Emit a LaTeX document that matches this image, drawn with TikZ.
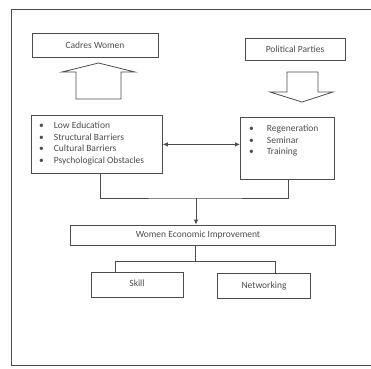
\documentclass[tikz,border=0pt]{standalone}
\usepackage{fontspec}
\setmainfont{Carlito}
\usetikzlibrary{arrows.meta}
\definecolor{ink}{gray}{0.3}
\tikzset{
  box/.style={draw=ink, line width=0.8pt, inner sep=0pt, font=\fontsize{9.5}{11}\selectfont, text=ink},
  txt/.style={inner sep=0pt, font=\fontsize{9.5}{11.5}\selectfont, text=ink},
  conn/.style={draw=ink, line width=0.8pt},
  tip/.style={-{Latex[length=5pt,width=4.5pt]}},
  blockarrow/.style={draw=ink, line width=0.8pt, line join=miter}
}
\begin{document}
\begin{tikzpicture}[x=1pt,y=-1pt]
\useasboundingbox (0,0) rectangle (371,368);
% outer frame
\draw[conn] (371,9) -- (11,9) -- (11,365) -- (371,365);
% top boxes
\node[box, minimum width=126, minimum height=24] (cadres) at (95,45) {Cadres Women};
\node[box, minimum width=100, minimum height=22] (parties) at (295,49) {Political Parties};
% block arrows
\draw[blockarrow] (76,99) -- (76,72) -- (62,72) -- (98.5,63) -- (135,72) -- (121,72) -- (121,99) -- cycle;
\draw[blockarrow] (287,72) -- (287,92) -- (270,92) -- (302,102) -- (333,92) -- (318,92) -- (318,72) -- cycle;
% list boxes
\node[box, minimum width=131, minimum height=58, anchor=north west] (barriers) at (31,115) {};
\node[txt, anchor=west] (blist) at (39,143.5) {\begin{tabular}{@{}l@{\hspace{10pt}}l@{}}
\textbullet & Low Education\\
\textbullet & Structural Barriers\\
\textbullet & Cultural Barriers\\
\textbullet & Psychological Obstacles
\end{tabular}};
\node[box, minimum width=94, minimum height=62, anchor=north west] (actions) at (240,117) {};
\node[txt, anchor=west] (alist) at (249,141) {\begin{tabular}{@{}l@{\hspace{13pt}}l@{}}
\textbullet & Regeneration\\
\textbullet & Seminar\\
\textbullet & Training
\end{tabular}};
% double arrow
\draw[conn, {Latex[length=5pt,width=4.5pt]}-{Latex[length=5pt,width=4.5pt]}] (barriers.east) -- (barriers.east -| actions.west);
% lower boxes
\node[box, minimum width=265, minimum height=20] (wei) at (202.5,235) {\hspace{-9pt}Women Economic Improvement};
\node[box, minimum width=92, minimum height=25] (skill) at (137,284.5) {\raisebox{2pt}{Skill}};
\node[box, minimum width=93, minimum height=25] (net) at (264,286) {\raisebox{2pt}{Networking}};
% connectors
\coordinate (j1) at (196,198);
\draw[conn] ([xshift=3.5pt]barriers.south) |- (j1) -| ([xshift=1pt]actions.south);
\draw[conn, tip] (j1) -- (j1 |- wei.north);
\coordinate (j2) at (195,261);
\draw[conn] (j2 |- wei.south) -- (j2);
\draw[conn] ([xshift=-22pt]skill.north) |- (j2) -| ([xshift=11pt]net.north);
\end{tikzpicture}
\end{document}
